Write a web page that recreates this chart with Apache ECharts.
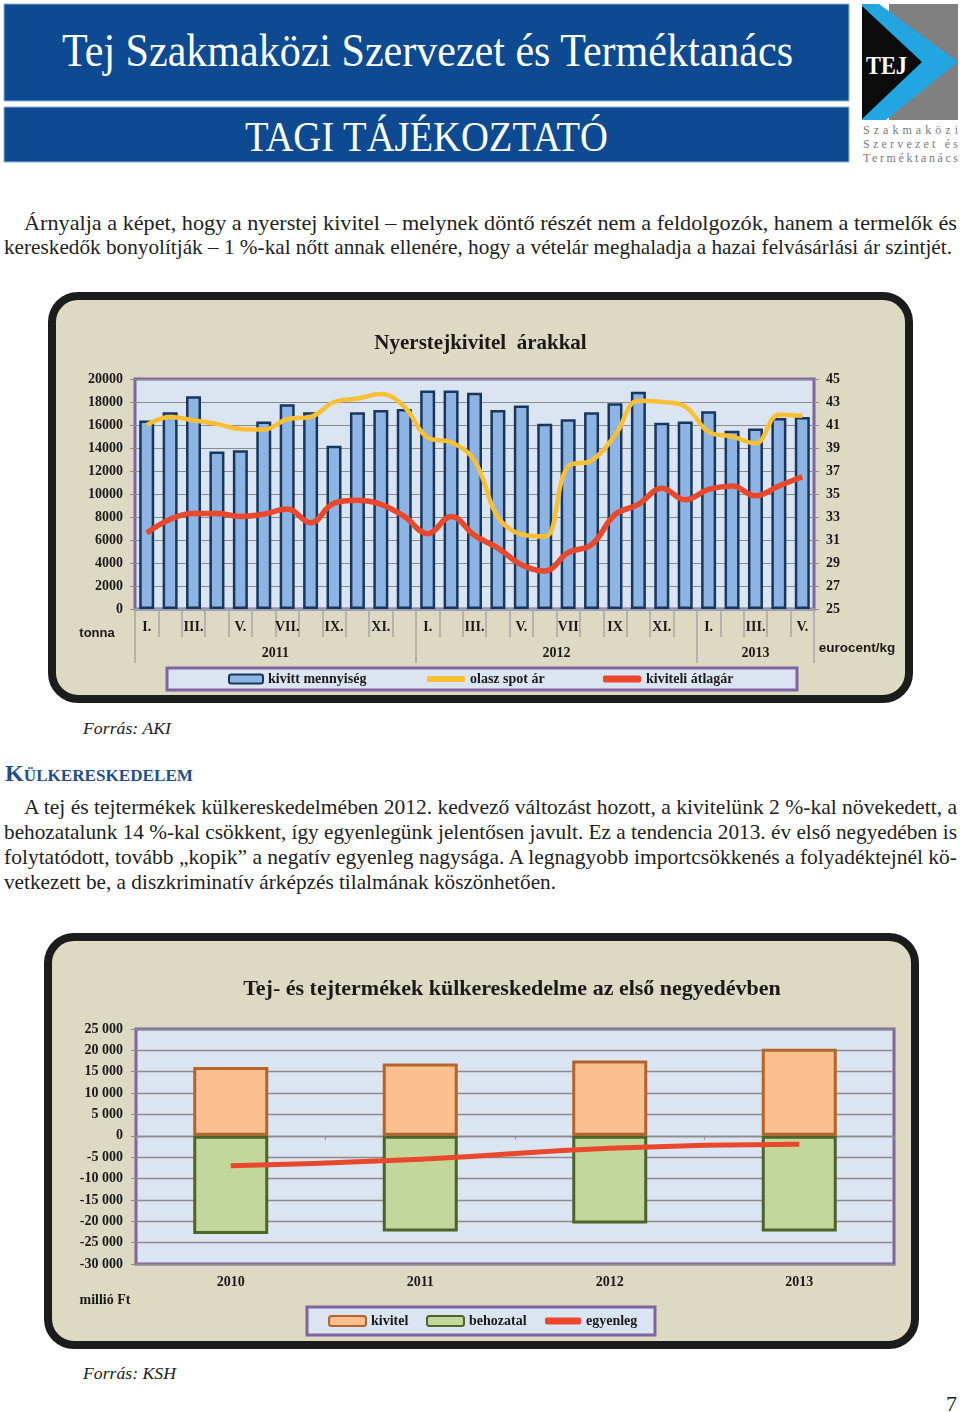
<!DOCTYPE html>
<html><head><meta charset="utf-8">
<script src="https://cdn.jsdelivr.net/npm/echarts@6/dist/echarts.min.js"></script>
<style>
html,body{margin:0;padding:0;background:#fff;}
#page{position:relative;width:960px;height:1412px;overflow:hidden;background:#fff;}
.frame{position:absolute;box-sizing:border-box;border:8px solid #1c1c1c;border-radius:30px;background:#ddd9c3;}
.chart{position:absolute;}
svg.layer{position:absolute;left:0;top:0;}
svg text{font-family:"Liberation Serif","Times New Roman",serif;}
</style></head>
<body><div id="page">
<svg class="layer" width="960" height="1412">
  <rect x="4" y="4" width="845" height="97" fill="#0d4a91" stroke="#8fb2d8" stroke-width="1"/>
  <rect x="4" y="107" width="845" height="55" fill="#0d4a91" stroke="#8fb2d8" stroke-width="1"/>
  <text x="62" y="66" font-size="46" fill="#fff" textLength="731" lengthAdjust="spacingAndGlyphs">Tej Szakmaközi Szervezet és Terméktanács</text>
  <text x="245" y="151" font-size="42" fill="#fff" textLength="363" lengthAdjust="spacingAndGlyphs">TAGI TÁJÉKOZTATÓ</text>
  <rect x="889" y="4" width="69" height="116" fill="#808080"/>
  <polygon points="862,4 879,4 958,62 886,120 862,120" fill="#22a5e0"/>
  <polygon points="862,6 922,62 862,119" fill="#0c0c0c"/>
  <text x="866" y="74" font-size="25" font-weight="bold" fill="#fff" textLength="41" lengthAdjust="spacingAndGlyphs">TEJ</text>
  <text x="863" y="134" font-size="12" fill="#7a7a7a" textLength="95" lengthAdjust="spacing">Szakmaközi</text>
  <text x="863" y="148" font-size="12" fill="#7a7a7a" textLength="95" lengthAdjust="spacing">Szervezet és</text>
  <text x="863" y="162" font-size="12" fill="#7a7a7a" textLength="95" lengthAdjust="spacing">Terméktanács</text>

  <g font-size="21" fill="#222">
    <text x="24" y="230" textLength="933" lengthAdjust="spacingAndGlyphs">Árnyalja a képet, hogy a nyerstej kivitel – melynek döntő részét nem a feldolgozók, hanem a termelők és</text>
    <text x="4" y="254" textLength="948" lengthAdjust="spacingAndGlyphs">kereskedők bonyolítják – 1 %-kal nőtt annak ellenére, hogy a vételár meghaladja a hazai felvásárlási ár szintjét.</text>
    <text x="24" y="814" textLength="933" lengthAdjust="spacingAndGlyphs">A tej és tejtermékek külkereskedelmében 2012. kedvező változást hozott, a kivitelünk 2 %-kal növekedett, a</text>
    <text x="4" y="839" textLength="953" lengthAdjust="spacingAndGlyphs">behozatalunk 14 %-kal csökkent, így egyenlegünk jelentősen javult. Ez a tendencia 2013. év első negyedében is</text>
    <text x="4" y="864" textLength="953" lengthAdjust="spacingAndGlyphs">folytatódott, tovább „kopik” a negatív egyenleg nagysága. A legnagyobb importcsökkenés a folyadéktejnél kö-</text>
    <text x="4" y="889" textLength="552" lengthAdjust="spacingAndGlyphs">vetkezett be, a diszkriminatív árképzés tilalmának köszönhetően.</text>
  </g>
  <text x="83" y="734" font-size="17" font-style="italic" fill="#222" textLength="88" lengthAdjust="spacingAndGlyphs">Forrás: AKI</text>
  <text x="5" y="781" font-weight="bold" fill="#1f4e8d" textLength="188" lengthAdjust="spacingAndGlyphs"><tspan font-size="24">K</tspan><tspan font-size="17">ÜLKERESKEDELEM</tspan></text>
  <text x="83" y="1379" font-size="17" font-style="italic" fill="#222" textLength="93" lengthAdjust="spacingAndGlyphs">Forrás: KSH</text>
  <text x="946" y="1411" font-size="22" fill="#222">7</text>
</svg>
<div class="frame" style="left:48px;top:292px;width:865px;height:411px"></div>
<div id="c1" class="chart" style="left:48px;top:292px;width:865px;height:411px"></div>
<div class="frame" style="left:44px;top:933px;width:875px;height:416px"></div>
<div id="c2" class="chart" style="left:44px;top:933px;width:875px;height:416px"></div>
</div>
<script>
// ---------- Chart 1 data ----------
const monthLabels = ['I.','','III.','','V.','','VII.','','IX.','','XI.','',
                     'I.','','III.','','V.','','VII','','IX','','XI.','',
                     'I.','','III.','','V.'];
const yearLabels = ['2011','2012','2013'];
const monthsPerYear = [12, 12, 5];
const exportVolume = [16400,17100,18500,13700,13800,16300,17800,17100,14200,17100,17300,17400,
                      19000,19000,18800,17300,17700,16100,16500,17100,17900,18900,16200,16300,
                      17200,15500,15700,16600,16700];
const italianSpotPrice = [41.0,41.7,41.4,41.1,40.65,40.6,41.5,41.7,43.0,43.3,43.7,42.6,
                          39.9,39.5,37.9,33.0,31.5,31.3,37.4,37.9,40.1,43.1,43.0,42.6,
                          40.4,40.0,39.4,41.9,41.8];
const exportAvgPrice = [31.6,32.8,33.3,33.3,33.05,33.25,33.7,32.5,34.2,34.45,34.1,33.05,
                        31.55,33.05,31.4,30.3,28.85,28.3,29.9,30.6,33.2,34.1,35.5,34.5,
                        35.4,35.7,34.85,35.7,36.5];
const priceTicks = [25,27,29,31,33,35,37,39,41,43,45];

// ---------- Chart 2 data ----------
const tradeYears = ['2010','2011','2012','2013'];
const exportsQ1 = [16100, 16900, 17600, 20400];
const importsQ1 = [-23000, -22400, -20500, -22400];
const balanceQ1 = [-7000, -5500, -2900, -2000];

const SERIF = '"Liberation Serif","Times New Roman",serif';
const SANS = '"Liberation Sans",Arial,sans-serif';
const TXT = '#1a1a1a';
const boldSerif = (size) => ({fontFamily: SERIF, fontWeight: 'bold', fontSize: size, color: TXT});

const yearTicks = [0];
monthsPerYear.forEach(n => yearTicks.push(yearTicks[yearTicks.length - 1] + n));
const yearCenters = monthsPerYear.map((n, i) => yearTicks[i] + n / 2);

const c1 = echarts.init(document.getElementById('c1'), null, {renderer: 'canvas'});
c1.setOption({
  animation: false,
  title: {text: 'Nyerstejkivitel  árakkal', left: 'center', top: 36, textStyle: boldSerif(21)},
  grid: {left: 87, top: 87, right: 99, bottom: 94, show: true, backgroundColor: '#dbe5f1',
         borderColor: '#8064a2', borderWidth: 3, containLabel: false, outerBoundsMode: 'none'},
  legend: [
    {data: ['kivitt mennyiség'], left: 180, top: 380, padding: 0, itemWidth: 34, itemHeight: 9, textStyle: boldSerif(14)},
    {data: ['olasz spot ár'], left: 379, top: 380, padding: 0, itemWidth: 38, itemHeight: 6, icon: 'roundRect', textStyle: boldSerif(14)},
    {data: ['kiviteli átlagár'], left: 555, top: 380, padding: 0, itemWidth: 38, itemHeight: 7, icon: 'roundRect', textStyle: boldSerif(14)}
  ],
  graphic: [
    {type: 'rect', z: -10, shape: {x: 119, y: 376, width: 630, height: 22},
     style: {fill: '#dbe5f1', stroke: '#8064a2', lineWidth: 3}},
    {type: 'text', x: 49, y: 341, style: {text: 'tonna', align: 'center', verticalAlign: 'middle',
      font: 'bold 13px ' + SANS, fill: TXT}},
    {type: 'text', x: 809, y: 356, style: {text: 'eurocent/kg', align: 'center', verticalAlign: 'middle',
      font: 'bold 13.5px ' + SANS, fill: TXT}}
  ],
  xAxis: [
    {type: 'category', data: monthLabels, position: 'bottom',
     axisLine: {show: true, lineStyle: {color: '#9aa2b2', width: 2.5}},
     axisTick: {show: true, interval: 0, length: 28, lineStyle: {color: '#a6a6a6', width: 1.5}},
     axisLabel: Object.assign({interval: 0, margin: 11}, boldSerif(14))},
    {type: 'value', min: 0, max: yearTicks[yearTicks.length - 1], position: 'bottom',
     axisLine: {show: false},
     axisTick: {show: true, customValues: yearTicks, length: 54, lineStyle: {color: '#a6a6a6', width: 1.5}},
     axisLabel: Object.assign({customValues: yearCenters, margin: 37,
        formatter: v => { const i = yearCenters.indexOf(v); return i >= 0 ? yearLabels[i] : ''; }}, boldSerif(14)),
     splitLine: {show: false}}
  ],
  yAxis: [
    {type: 'value', min: 0, max: 20000, interval: 2000, position: 'left',
     axisLine: {show: false},
     axisTick: {show: true, length: 5, lineStyle: {color: '#8c8c8c'}},
     axisLabel: Object.assign({margin: 12, formatter: v => String(v)}, boldSerif(14)),
     splitLine: {show: true, lineStyle: {color: '#8c8c8c', width: 1.2}}},
    {type: 'value', min: 25, max: 45, position: 'right',
     axisLine: {show: false},
     axisTick: {show: true, length: 5, customValues: priceTicks, lineStyle: {color: '#8c8c8c'}},
     axisLabel: Object.assign({margin: 12, customValues: priceTicks, formatter: v => String(v)}, boldSerif(14)),
     splitLine: {show: false}}
  ],
  series: [
    {type: 'bar', name: 'kivitt mennyiség', data: exportVolume, xAxisIndex: 0, yAxisIndex: 0, barWidth: 15,
     itemStyle: {color: '#8db4e2', borderColor: '#17375e', borderWidth: 2.5}},
    {type: 'line', name: 'olasz spot ár', data: italianSpotPrice, xAxisIndex: 0, yAxisIndex: 1, smooth: 0.4,
     symbol: 'none', showSymbol: false, lineStyle: {color: '#fbbf34', width: 4.5}, itemStyle: {color: '#fbbf34'}},
    {type: 'line', name: 'kiviteli átlagár', data: exportAvgPrice, xAxisIndex: 0, yAxisIndex: 1, smooth: 0.4,
     symbol: 'none', showSymbol: false, lineStyle: {color: '#e9482c', width: 5.5}, itemStyle: {color: '#e9482c'}}
  ]
});

const fmtSpace = v => (v < 0 ? '-' : '') + Math.abs(v).toString().replace(/\B(?=(\d{3})+(?!\d))/g, ' ');

const c2 = echarts.init(document.getElementById('c2'), null, {renderer: 'canvas'});
c2.setOption({
  animation: false,
  title: {text: 'Tej- és tejtermékek külkereskedelme az első negyedévben', left: 463, textAlign: 'center',
          top: 40, textStyle: boldSerif(22)},
  grid: {left: 92, top: 96, right: 25, bottom: 85, show: true, backgroundColor: '#dbe5f1',
         borderColor: '#8064a2', borderWidth: 3, containLabel: false, outerBoundsMode: 'none'},
  legend: [
    {data: ['kivitel'], left: 284, top: 381, padding: 0, itemWidth: 37, itemHeight: 10, icon: 'roundRect', textStyle: boldSerif(14)},
    {data: ['behozatal'], left: 382, top: 381, padding: 0, itemWidth: 37, itemHeight: 10, icon: 'roundRect', textStyle: boldSerif(14)},
    {data: ['egyenleg'], left: 501, top: 381, padding: 0, itemWidth: 36, itemHeight: 7, icon: 'roundRect', textStyle: boldSerif(14)}
  ],
  graphic: [
    {type: 'rect', z: -10, shape: {x: 263, y: 374, width: 348, height: 28},
     style: {fill: '#dbe5f1', stroke: '#8064a2', lineWidth: 3}},
    {type: 'text', x: 61, y: 367, style: {text: 'millió Ft', align: 'center', verticalAlign: 'middle',
      font: 'bold 14px ' + SERIF, fill: TXT}}
  ],
  xAxis: [
    {type: 'category', data: tradeYears,
     axisLine: {show: true, onZero: true, lineStyle: {color: '#8c8c8c', width: 1.3}},
     axisTick: {show: true, length: 4, lineStyle: {color: '#8c8c8c'}},
     axisLabel: {show: false}},
    {type: 'category', data: tradeYears, position: 'bottom',
     axisLine: {show: false, onZero: false}, axisTick: {show: false},
     axisLabel: Object.assign({margin: 11}, boldSerif(14))}
  ],
  yAxis: {type: 'value', min: -30000, max: 25000, interval: 5000,
     axisLine: {show: false},
     axisTick: {show: true, length: 5, lineStyle: {color: '#8c8c8c'}},
     axisLabel: Object.assign({margin: 13, formatter: fmtSpace}, boldSerif(14)),
     splitLine: {show: true, lineStyle: {color: '#8c8c8c', width: 1.3}}},
  series: [
    {type: 'bar', name: 'kivitel', stack: 'trade', data: exportsQ1, barWidth: 75,
     itemStyle: {color: '#fac090', borderColor: '#b4632a', borderWidth: 3}},
    {type: 'bar', name: 'behozatal', stack: 'trade', data: importsQ1, barWidth: 75,
     itemStyle: {color: '#c3d69b', borderColor: '#4f6228', borderWidth: 3}},
    {type: 'line', name: 'egyenleg', data: balanceQ1, smooth: true, symbol: 'none', showSymbol: false,
     lineStyle: {color: '#e9482c', width: 5}, itemStyle: {color: '#e9482c'}}
  ]
});
</script>
</body></html>
